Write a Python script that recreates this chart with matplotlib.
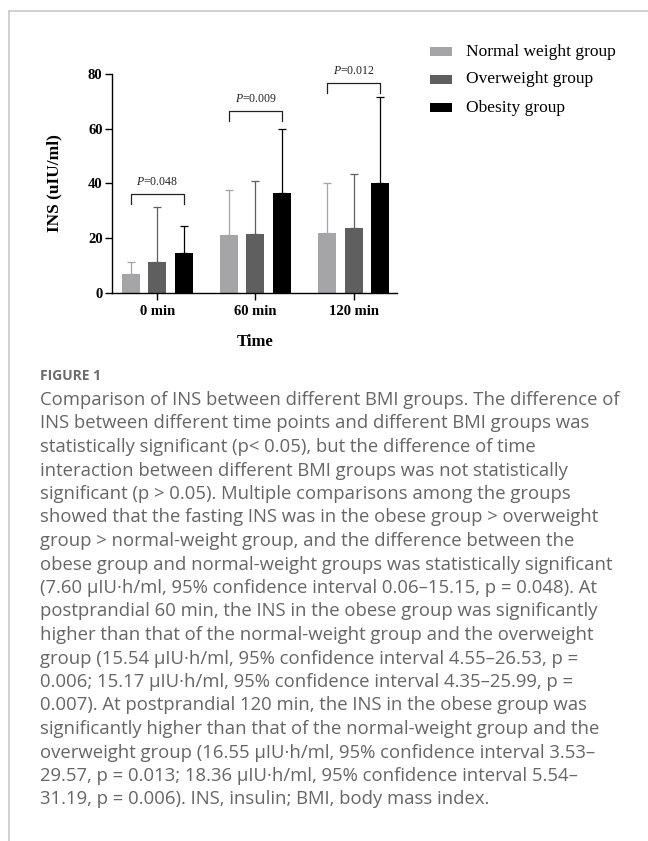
import matplotlib
matplotlib.use("Agg")
import matplotlib.pyplot as plt
import numpy as np
from matplotlib.patches import Rectangle
from matplotlib.lines import Line2D

plt.rcParams['font.family'] = 'Liberation Serif'
plt.rcParams['mathtext.fontset'] = 'custom'
plt.rcParams['mathtext.it'] = 'Liberation Serif:italic'
plt.rcParams['mathtext.rm'] = 'Liberation Serif'

# data
times = ['0 min', '60 min', '120 min']
groups = ['Normal weight group', 'Overweight group', 'Obesity group']
colors = ['#a5a5a8', '#5f5f5f', '#000000']
normal_mean = [6.9, 21.0, 21.8]
normal_sd = [4.5, 16.7, 18.4]
over_mean = [11.4, 21.4, 23.5]
over_sd = [20.0, 19.4, 20.1]
obese_mean = [14.5, 36.6, 40.2]
obese_sd = [9.8, 23.4, 31.5]
p_labels = ['0.048', '0.009', '0.012']
p_heights = [36.2, 66.4, 76.6]

means = [normal_mean, over_mean, obese_mean]
sds = [normal_sd, over_sd, obese_sd]

W, H = 648, 841
fig = plt.figure(figsize=(W / 100, H / 100), dpi=100)

def fx(px):
    return px / W

def fy(py):
    return 1 - py / H

ax = fig.add_axes([fx(112.3), fy(292.7), fx(396.7 - 112.3), (292.7 - 74) / H])

x = np.arange(len(times))
off = 0.272
bw = 0.183
for i, (m, s, c) in enumerate(zip(means, sds, colors)):
    xs = x + (i - 1) * off
    ax.bar(xs, m, width=bw, color=c, zorder=2)
    ax.errorbar(xs, m, yerr=[np.zeros(len(s)), s], fmt='none', ecolor=c,
                elinewidth=0.9, capsize=3.2, capthick=0.9, zorder=1)

# significance brackets (normal vs obesity)
for j, (lab, h) in enumerate(zip(p_labels, p_heights)):
    x1, x2 = x[j] - off, x[j] + off
    ax.plot([x1, x1, x2, x2], [h - 3.6, h, h, h - 3.6], color='#222222', lw=0.9,
            clip_on=False)
    ax.text(x[j], h + 2.2, r'$\it{P}$=' + lab, ha='center', va='bottom',
            fontsize=8.5, color='#222222')

ax.set_xlim(-0.458, 2.438)
ax.set_ylim(0, 80)
ax.set_yticks([0, 20, 40, 60, 80])
ax.set_xticks(x)
ax.set_xticklabels(times, fontweight='bold', fontsize=10.5)
for t in ax.get_yticklabels():
    t.set_fontweight('bold')
    t.set_fontsize(10.5)
ax.spines['top'].set_visible(False)
ax.spines['right'].set_visible(False)
ax.spines['left'].set_linewidth(1.0)
ax.spines['bottom'].set_linewidth(1.0)
ax.tick_params(axis='both', length=5, width=1.0, pad=2)
ax.tick_params(axis='x', pad=4)
ax.set_facecolor('none')

fig.text(fx(54), fy(183), 'INS (uIU/ml)', rotation=90, ha='center', va='center',
         fontsize=12.5, fontweight='bold')
fig.text(fx(255), fy(342), 'Time', ha='center', va='center',
         fontsize=12, fontweight='bold')

# legend
leg_y = [51.7, 79.3, 107.7]
for lab, c, yy in zip(groups, colors, leg_y):
    fig.add_artist(Rectangle((fx(430), fy(yy + 4.5)), fx(22), 9 / H,
                             facecolor=c, edgecolor='none', transform=fig.transFigure))
    fig.text(fx(466), fy(yy), lab, ha='left', va='center', fontsize=12.5)

# frame lines
fig.add_artist(Line2D([fx(9), 1], [fy(11), fy(11)], color='#c8c8c8', lw=1.2,
                      transform=fig.transFigure))
fig.add_artist(Line2D([fx(9), fx(9)], [fy(11), 0], color='#c8c8c8', lw=1.2,
                      transform=fig.transFigure))

# caption
fig.text(fx(40), fy(376), 'FIGURE 1', ha='left', va='center', fontsize=10,
         fontweight='bold', color='#6b6b6b', family='Open Sans')
caption = [
    "Comparison of INS between different BMI groups. The difference of",
    "INS between different time points and different BMI groups was",
    "statistically significant (p< 0.05), but the difference of time",
    "interaction between different BMI groups was not statistically",
    "significant (p > 0.05). Multiple comparisons among the groups",
    "showed that the fasting INS was in the obese group > overweight",
    "group > normal-weight group, and the difference between the",
    "obese group and normal-weight groups was statistically significant",
    "(7.60 μIU·h/ml, 95% confidence interval 0.06–15.15, p = 0.048). At",
    "postprandial 60 min, the INS in the obese group was significantly",
    "higher than that of the normal-weight group and the overweight",
    "group (15.54 μIU·h/ml, 95% confidence interval 4.55–26.53, p =",
    "0.006; 15.17 μIU·h/ml, 95% confidence interval 4.35–25.99, p =",
    "0.007). At postprandial 120 min, the INS in the obese group was",
    "significantly higher than that of the normal-weight group and the",
    "overweight group (16.55 μIU·h/ml, 95% confidence interval 3.53–",
    "29.57, p = 0.013; 18.36 μIU·h/ml, 95% confidence interval 5.54–",
    "31.19, p = 0.006). INS, insulin; BMI, body mass index.",
]
for k, line in enumerate(caption):
    fig.text(fx(40), fy(400 + k * 23.5), line, ha='left', va='center',
             fontsize=13.3, color='#666666', family=['Open Sans', 'DejaVu Sans'])

fig.savefig('out.png', dpi=100, facecolor='white')
